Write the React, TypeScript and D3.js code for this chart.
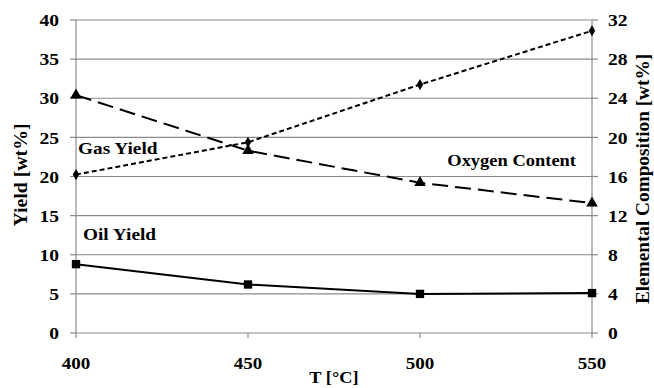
import * as d3 from "d3";
import type { ReactNode } from "react";

const temps = [400, 450, 500, 550];
const oilYield = [8.8, 6.2, 5.0, 5.1];
const gasYield = [30.4, 23.3, 19.2, 16.6];
const oxygenContent = [16.2, 19.5, 25.4, 30.9];

const leftTicks = [0, 5, 10, 15, 20, 25, 30, 35, 40];
const rightTicks = [0, 4, 8, 12, 16, 20, 24, 28, 32];

const W = 654;
const H = 388;
const margin = { top: 20, right: 62, bottom: 55, left: 76 };
const font = "Liberation Serif, Times New Roman, serif";

// the source image is a little stretched sideways, so text gets a small x scale
function Label(props: {
  x: number; y: number; size: number; sx?: number; rot?: number;
  anchor?: "start" | "middle" | "end"; dy?: string; children: ReactNode;
}) {
  const { x, y, size, sx = 1.12, rot = 0, anchor = "start", dy, children } = props;
  return (
    <text
      transform={`translate(${x},${y}) rotate(${rot}) scale(${sx},1)`}
      textAnchor={anchor}
      dy={dy}
      fontSize={size}
    >
      {children}
    </text>
  );
}

export default function App() {
  const innerW = W - margin.left - margin.right;
  const innerH = H - margin.top - margin.bottom;

  const x = d3.scaleLinear().domain([400, 550]).range([0, innerW]);
  const yL = d3.scaleLinear().domain([0, 40]).range([innerH, 0]);
  const yR = d3.scaleLinear().domain([0, 32]).range([innerH, 0]);

  const lineL = d3.line<number>().x((_, i) => x(temps[i])).y(d => yL(d));
  const lineR = d3.line<number>().x((_, i) => x(temps[i])).y(d => yR(d));

  const tri = d3.symbol().type(d3.symbolTriangle).size(58)()!;
  const sq = d3.symbol().type(d3.symbolSquare).size(70)()!;
  const dia = d3.symbol().type(d3.symbolDiamond).size(36)()!;

  const axisColor = "#8a8a8a";

  return (
    <svg width={W} height={H} style={{ position: "absolute", left: 0, top: 0, background: "#fff", fontFamily: font, fontWeight: 700 }}>
      <g transform={`translate(${margin.left},${margin.top})`}>
        {/* grid */}
        {leftTicks.map(t => (
          <line key={"g" + t} x1={0} x2={innerW} y1={yL(t)} y2={yL(t)} stroke={axisColor} strokeWidth={1.2} />
        ))}
        {/* left axis */}
        <line x1={0} x2={0} y1={0} y2={innerH} stroke={axisColor} strokeWidth={1.2} />
        {leftTicks.map(t => (
          <g key={"l" + t}>
            <line x1={-6} x2={0} y1={yL(t)} y2={yL(t)} stroke={axisColor} strokeWidth={1.2} />
            <Label x={-17} y={yL(t)} dy="0.35em" anchor="end" size={17.5}>{t}</Label>
          </g>
        ))}
        {/* right axis */}
        <line x1={innerW} x2={innerW} y1={0} y2={innerH} stroke={axisColor} strokeWidth={1.2} />
        {rightTicks.map(t => (
          <g key={"r" + t}>
            <line x1={innerW} x2={innerW + 6} y1={yR(t)} y2={yR(t)} stroke={axisColor} strokeWidth={1.2} />
            <Label x={innerW + 16} y={yR(t)} dy="0.35em" size={17.5}>{t}</Label>
          </g>
        ))}
        {/* bottom axis */}
        {temps.map(t => (
          <g key={"x" + t}>
            <line x1={x(t)} x2={x(t)} y1={innerH} y2={innerH + 5} stroke={axisColor} strokeWidth={1.2} />
            <Label x={x(t)} y={innerH + 36} anchor="middle" size={17}>{t}</Label>
          </g>
        ))}

        {/* series */}
        <path d={lineL(gasYield)!} fill="none" stroke="#000" strokeWidth={2} strokeDasharray="16,7" />
        <path d={lineR(oxygenContent)!} fill="none" stroke="#000" strokeWidth={2} strokeDasharray="5,3" />
        <path d={lineL(oilYield)!} fill="none" stroke="#000" strokeWidth={2} />
        {gasYield.map((v, i) => (
          <path key={"gt" + i} d={tri} transform={`translate(${x(temps[i])},${yL(v)})`} fill="#000" />
        ))}
        {oxygenContent.map((v, i) => (
          <path key={"od" + i} d={dia} transform={`translate(${x(temps[i])},${yR(v)})`} fill="#000" />
        ))}
        {oilYield.map((v, i) => (
          <path key={"os" + i} d={sq} transform={`translate(${x(temps[i])},${yL(v)})`} fill="#000" />
        ))}

        {/* series labels */}
        <Label x={2} y={yL(22.9)} size={16.5} sx={1.17}>Gas Yield</Label>
        <Label x={7} y={yL(11.9)} size={16.5} sx={1.17}>Oil Yield</Label>
        <Label x={innerW - 16} y={yL(21.3)} anchor="end" size={16.5} sx={1.12}>Oxygen Content</Label>

        {/* axis titles */}
        <Label x={-49} y={155} rot={-90} anchor="middle" size={18} sx={1.1}>Yield [wt%]</Label>
        <Label x={innerW + 57} y={159} rot={-90} anchor="middle" size={18} sx={1.07}>Elemental Composition  [wt%]</Label>
        <Label x={innerW / 2} y={innerH + 50} anchor="middle" size={17} sx={1.08}>T [°C]</Label>
      </g>
    </svg>
  );
}
